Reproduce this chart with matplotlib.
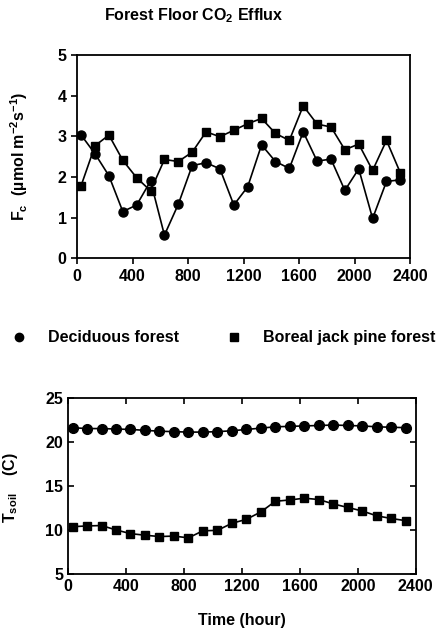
import matplotlib
matplotlib.use('Agg')
import matplotlib.pyplot as plt
from matplotlib.lines import Line2D

plt.rcParams['font.family'] = ['Liberation Sans', 'DejaVu Sans']
plt.rcParams['font.weight'] = 'bold'
plt.rcParams['axes.labelweight'] = 'bold'
plt.rcParams['mathtext.fontset'] = 'custom'
plt.rcParams['mathtext.rm'] = 'Liberation Sans:bold'
plt.rcParams['mathtext.it'] = 'Liberation Sans:bold'
plt.rcParams['mathtext.bf'] = 'Liberation Sans:bold'

# time (hour)
hours = [30, 130, 230, 330, 430, 530, 630, 730, 830, 930, 1030, 1130,
         1230, 1330, 1430, 1530, 1630, 1730, 1830, 1930, 2030, 2130, 2230, 2330]

# forest floor CO2 efflux
fc_decid = [3.03, 2.57, 2.03, 1.15, 1.31, 1.90, 0.57, 1.33, 2.28, 2.35, 2.20, 1.31,
            1.76, 2.79, 2.38, 2.21, 3.11, 2.39, 2.44, 1.67, 2.20, 0.98, 1.89, 1.93]
fc_boreal = [1.79, 2.77, 3.03, 2.41, 1.98, 1.66, 2.43, 2.38, 2.61, 3.11, 2.99, 3.15,
             3.31, 3.44, 3.07, 2.90, 3.75, 3.30, 3.23, 2.67, 2.81, 2.16, 2.90, 2.10]

# soil temperature
ts_decid = [21.6, 21.5, 21.5, 21.45, 21.4, 21.3, 21.2, 21.15, 21.1, 21.1, 21.15, 21.25,
            21.4, 21.55, 21.7, 21.75, 21.8, 21.85, 21.9, 21.85, 21.8, 21.7, 21.65, 21.6]
ts_boreal = [10.37, 10.45, 10.5, 10.0, 9.58, 9.4, 9.25, 9.3, 9.1, 9.9, 9.95, 10.75,
             11.2, 12.04, 13.25, 13.4, 13.6, 13.45, 12.95, 12.55, 12.15, 11.6, 11.3, 11.05]

xticks = [0, 400, 800, 1200, 1600, 2000, 2400]

fig = plt.figure(figsize=(4.4, 6.3), dpi=100)

# 위쪽 그래프 : CO2 efflux
ax1 = fig.add_axes([0.175, 0.590, 0.757, 0.3227])
ax1.plot(hours, fc_decid, 'k-', marker='o', markersize=6.5, linewidth=1.2)
ax1.plot(hours, fc_boreal, 'k-', marker='s', markersize=5.8, linewidth=1.2)
ax1.set_xlim(0, 2400)
ax1.set_ylim(0, 5)
ax1.set_xticks(xticks)
ax1.set_yticks([0, 1, 2, 3, 4, 5])
ax1.tick_params(direction='out', length=4, width=1.2, labelsize=11.5)
ax1.set_ylabel('F$_\\mathregular{c}$  (\u00b5mol m$^{\\mathregular{-2}}$s$^{\\mathregular{-1}}$)', fontsize=11.5)
ax1.yaxis.set_label_coords(-0.14, 0.5)
for s in ax1.spines.values():
    s.set_linewidth(1.3)

fig.text(0.44, 0.975, 'Forest Floor CO$_\\mathregular{2}$ Efflux', ha='center', va='center', fontsize=11.5)

# 범례
h1 = Line2D([], [], color='k', marker='o', linestyle='none', markersize=6)
h2 = Line2D([], [], color='k', marker='s', linestyle='none', markersize=5.5)
fig.legend([h1, h2], ['Deciduous forest', 'Boreal jack pine forest'], ncol=2,
           loc='center left', bbox_to_anchor=(-0.008, 0.464), frameon=False,
           fontsize=11.5, handlelength=1.0, handletextpad=1.3, columnspacing=3.0)

# 아래쪽 그래프 : 토양 온도
ax2 = fig.add_axes([0.155, 0.0889, 0.790, 0.2798])
ax2.plot(hours, ts_decid, 'k-', marker='o', markersize=7, linewidth=1.2)
ax2.plot(hours, ts_boreal, 'k-', marker='s', markersize=6.2, linewidth=1.2)
ax2.set_xlim(0, 2400)
ax2.set_ylim(5, 25)
ax2.set_xticks(xticks)
ax2.set_yticks([5, 10, 15, 20, 25])
ax2.tick_params(direction='in', length=4, width=1.2, labelsize=11.5,
                top=True, right=True)
ax2.set_ylabel('T$_\\mathregular{soil}$    (C)', fontsize=11.5)
ax2.yaxis.set_label_coords(-0.14, 0.49)
ax2.set_xlabel('Time (hour)', fontsize=11.5, labelpad=14)
for s in ax2.spines.values():
    s.set_linewidth(1.3)

filename = 'out.png'
plt.savefig(filename)
print(filename + ' saved')
